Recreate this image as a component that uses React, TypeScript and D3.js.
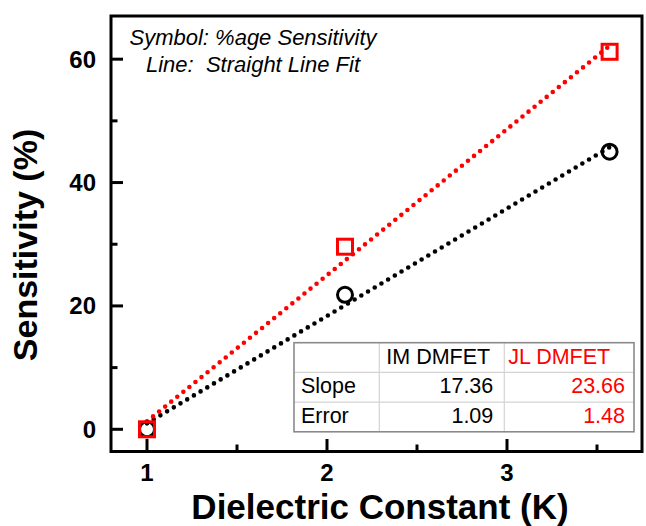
import React from "react";
import * as d3 from "d3";

const kValues = [1, 2.1, 3.57];
const imSensitivity = [0, 21.8, 45.0];
const jlSensitivity = [0, 29.6, 61.2];
const xMajorTicks = [1, 2, 3];
const xMinorTicks = [1.5, 2.5, 3.5];
const yMajorTicks = [0, 20, 40, 60];
const yMinorTicks = [10, 30, 50];
const tableHeader = ["", "IM DMFET", "JL DMFET"];
const tableRowLabels = ["Slope", "Error"];
const imStats = ["17.36", "1.09"];
const jlStats = ["23.66", "1.48"];

const W = 646;
const H = 526;
const L = 111, R = 642, T = 16, B = 451.5;
const FONT = "'Liberation Sans', Arial, sans-serif";

function fit(xs: number[], ys: number[]) {
  const mx = d3.mean(xs)!;
  const my = d3.mean(ys)!;
  let sxy = 0, sxx = 0;
  xs.forEach((x, i) => {
    sxy += (x - mx) * (ys[i] - my);
    sxx += (x - mx) * (x - mx);
  });
  const slope = sxy / sxx;
  return { slope, intercept: my - slope * mx };
}

export default function App() {
  const x = d3.scaleLinear().domain([0.8, 3.75]).range([L, R]);
  const y = d3.scaleLinear().domain([-3.6, 67]).range([B, T]);

  const line = d3
    .line<number>()
    .x((d) => x(d[0] as any))
    .y((d) => y(d[1] as any)) as any;

  const fitLine = (ys: number[]) => {
    const f = fit(kValues, ys);
    const x0 = d3.min(kValues)!;
    const x1 = d3.max(kValues)!;
    return line([
      [x0, f.intercept + f.slope * x0],
      [x1, f.intercept + f.slope * x1],
    ]);
  };

  const tx = 294, ty = 342.7;
  const colX = [294, 379.3, 504.3, 634];
  const rowH = 29.7;

  return (
    <svg
      width={W}
      height={H}
      style={{ position: "absolute", left: 0, top: 0, background: "#fff" }}
      fontFamily={FONT}
    >
      {/* fit lines */}
      <path
        d={fitLine(imSensitivity)}
        fill="none"
        stroke="#000"
        strokeWidth={4.6}
        strokeLinecap="round"
        strokeDasharray="0 7.8"
      />
      <path
        d={fitLine(jlSensitivity)}
        fill="none"
        stroke="#ff0000"
        strokeWidth={4.6}
        strokeLinecap="round"
        strokeDasharray="0 7.8"
      />

      {/* markers */}
      {kValues.map((k, i) => (
        <circle
          key={"c" + i}
          cx={x(k)}
          cy={y(imSensitivity[i])}
          r={7.5}
          fill="none"
          stroke="#000"
          strokeWidth={3}
        />
      ))}
      {kValues.map((k, i) => (
        <rect
          key={"s" + i}
          x={x(k) - 7.5}
          y={y(jlSensitivity[i]) - 7.5}
          width={15}
          height={15}
          fill="none"
          stroke="#ff0000"
          strokeWidth={3}
        />
      ))}

      {/* table */}
      <g>
        <rect
          x={tx}
          y={ty}
          width={colX[3] - colX[0]}
          height={rowH * 3}
          fill="#fff"
        />
        {[1, 2].map((r) => (
          <line
            key={"hr" + r}
            x1={colX[0]}
            x2={colX[3]}
            y1={ty + rowH * r}
            y2={ty + rowH * r}
            stroke="#d4d4d4"
            strokeWidth={1.2}
          />
        ))}
        {[1, 2].map((c) => (
          <line
            key={"vc" + c}
            x1={colX[c]}
            x2={colX[c]}
            y1={ty}
            y2={ty + rowH * 3}
            stroke="#d4d4d4"
            strokeWidth={1.2}
          />
        ))}
        <rect
          x={tx}
          y={ty}
          width={colX[3] - colX[0]}
          height={rowH * 3}
          fill="none"
          stroke="#8a8a8a"
          strokeWidth={1.6}
        />
        <text x={colX[1] + 7} y={ty + 21.5} fontSize={21.5} fill="#000">
          {tableHeader[1]}
        </text>
        <text x={colX[2] + 4} y={ty + 21.5} fontSize={21.5} fill="#ff0000">
          {tableHeader[2]}
        </text>
        {tableRowLabels.map((lab, i) => (
          <g key={"row" + i}>
            <text
              x={colX[0] + 7}
              y={ty + rowH * (i + 1) + 21}
              fontSize={21.5}
              fill="#000"
            >
              {lab}
            </text>
            <text
              x={colX[2] - 11}
              y={ty + rowH * (i + 1) + 21}
              fontSize={21.5}
              fill="#000"
              textAnchor="end"
            >
              {imStats[i]}
            </text>
            <text
              x={colX[3] - 9}
              y={ty + rowH * (i + 1) + 21}
              fontSize={21.5}
              fill="#ff0000"
              textAnchor="end"
            >
              {jlStats[i]}
            </text>
          </g>
        ))}
      </g>

      {/* frame */}
      <rect
        x={L}
        y={T}
        width={R - L}
        height={B - T}
        fill="none"
        stroke="#000"
        strokeWidth={3}
      />

      {/* y ticks */}
      {yMajorTicks.map((t) => (
        <g key={"ym" + t}>
          <line x1={L} x2={L + 12} y1={y(t)} y2={y(t)} stroke="#000" strokeWidth={3} />
          <text
            x={96}
            y={y(t)}
            fontSize={24}
            fontWeight="bold"
            textAnchor="end"
            dominantBaseline="central"
          >
            {t}
          </text>
        </g>
      ))}
      {yMinorTicks.map((t) => (
        <line key={"yn" + t} x1={L} x2={L + 6.5} y1={y(t)} y2={y(t)} stroke="#000" strokeWidth={3} />
      ))}

      {/* x ticks */}
      {xMajorTicks.map((t) => (
        <g key={"xm" + t}>
          <line x1={x(t)} x2={x(t)} y1={B} y2={B - 12.5} stroke="#000" strokeWidth={3} />
          <text x={x(t)} y={481} fontSize={24} fontWeight="bold" textAnchor="middle">
            {t}
          </text>
        </g>
      ))}
      {xMinorTicks.map((t) => (
        <line key={"xn" + t} x1={x(t)} x2={x(t)} y1={B} y2={B - 7} stroke="#000" strokeWidth={3} />
      ))}

      {/* axis titles */}
      <text
        x={380}
        y={518.5}
        fontSize={35}
        fontWeight="bold"
        textAnchor="middle"
      >
        Dielectric Constant (K)
      </text>
      <text
        transform="translate(37,245) rotate(-90)"
        fontSize={34}
        fontWeight="bold"
        textAnchor="middle"
      >
        Sensitivity (%)
      </text>

      {/* annotation */}
      <text x={253} y={45} fontSize={22} fontStyle="italic" textAnchor="middle">
        Symbol: %age Sensitivity
      </text>
      <text
        x={253}
        y={72}
        fontSize={22}
        fontStyle="italic"
        textAnchor="middle"
        style={{ whiteSpace: "pre" }}
      >
        {"Line:  Straight Line Fit"}
      </text>
    </svg>
  );
}
